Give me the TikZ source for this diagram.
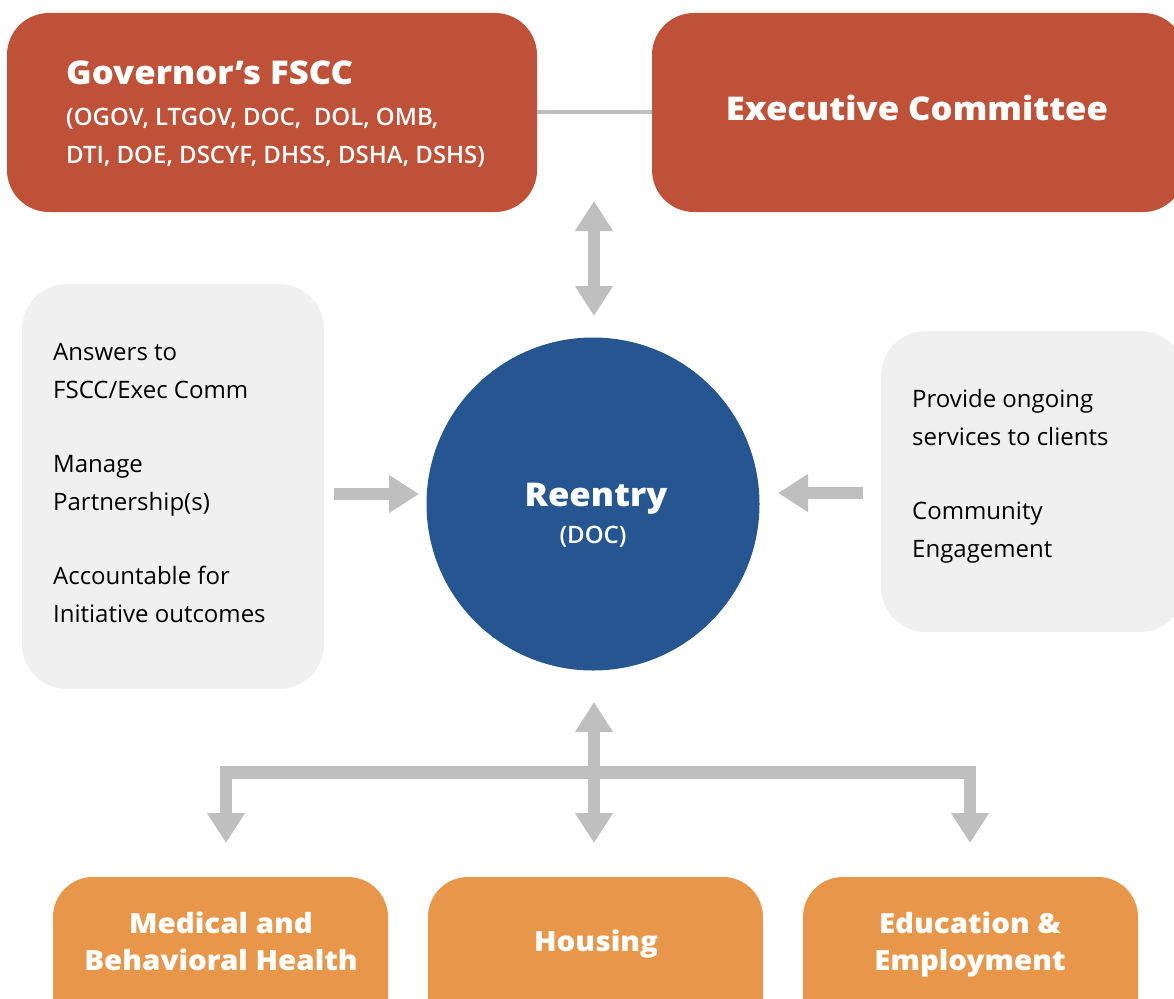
\documentclass[tikz,border=0pt]{standalone}
\usepackage{fontspec}
\setmainfont{Open Sans}
\newcommand\tryfont[4]{\IfFontExistsTF{#2}{\newfontfamily#1{#2}[#3]}{#4}}
\tryfont\xbold{Open Sans ExtraBold}{FakeStretch=1.06}{\tryfont\xbold{Open Sans Extrabold}{FakeStretch=1.06}{\tryfont\xbold{[OpenSans-ExtraBold.ttf]}{FakeStretch=1.06}{\tryfont\xbold{[OpenSans-Extrabold.ttf]}{FakeStretch=1.06}{\newfontfamily\xboldfam{Open Sans}[FakeBold=1.5,FakeStretch=1.06]\newcommand\xbold{\xboldfam\bfseries}}}}}
\tryfont\semibf{Open Sans Semibold}{}{\tryfont\semibf{[OpenSans-SemiBold.ttf]}{}{\tryfont\semibf{[OpenSans-Semibold.ttf]}{}{\newfontfamily\semibf{Open Sans}[FakeBold=1.3]}}}
\usetikzlibrary{arrows.meta}
\definecolor{rust}{RGB}{190,81,56}
\definecolor{navy}{RGB}{38,86,145}
\definecolor{orng}{RGB}{232,150,74}
\definecolor{pale}{RGB}{240,240,240}
\definecolor{arrgray}{RGB}{191,191,191}
\tikzset{
  topbox/.style={fill=rust, draw=none, rounded corners=42pt},
  sidebox/.style={fill=pale, draw=none, rounded corners=45pt},
  botbox/.style={fill=orng, draw=none, rounded corners=40pt},
  wtxt/.style={text=white, inner sep=0pt},
  btxt/.style={text=black, inner sep=0pt, anchor=base west, font=\fontsize{24}{28}\selectfont},
  bigw/.style={wtxt, anchor=base, font=\fontsize{27.8}{37}\xbold\selectfont},
  subw/.style={wtxt, anchor=base west, font=\fontsize{24}{28}\semibf\selectfont},
  blockarrow/.style={draw=arrgray, line width=12.5pt, line join=miter,
     arrows={-Triangle[width=36pt,length=30pt,fill=arrgray]}},
  dblarrow/.style={draw=arrgray, line width=12.5pt, line join=miter,
     arrows={Triangle[width=36pt,length=30pt,fill=arrgray]-Triangle[width=36pt,length=30pt,fill=arrgray]}},
}
\begin{document}
\begin{tikzpicture}[x=1pt,y=-1pt]
\useasboundingbox (0,0) rectangle (1174,998);
\clip (0,0) rectangle (1174,998);
% top boxes
\path[topbox] (7,13) rectangle (537,212);
\path[topbox] (652,13) rectangle (1185,212);
\node[wtxt, anchor=base west, font=\fontsize{32.7}{34}\xbold\selectfont] (govt) at (66,84) {Governor’s FSCC};
\node[subw] (govs1) at (66,125) {(OGOV, LTGOV, DOC,\ \ DOL, OMB,};
\node[subw] (govs2) at (66,163) {DTI, DOE, DSCYF, DHSS, DSHA, DSHS)};
\node[wtxt, anchor=base, font=\fontsize{32.7}{38}\xbold\selectfont] (exect) at (917,120) {Executive Committee};
\coordinate (gr) at (537,112);
\coordinate (el) at (652,112);
\draw[draw=arrgray, line width=4pt] (gr) -- (el);
% side boxes
\path[sidebox] (22,284) rectangle (324,689);
\path[sidebox] (881,331) rectangle (1185,632);
\node[btxt] (l1) at (53,360) {Answers to};
\node[btxt] (l2) at (53,398) {FSCC/Exec Comm};
\node[btxt] (l3) at (53,472) {Manage};
\node[btxt] (l4) at (53,510) {Partnership(s)};
\node[btxt] (l5) at (53,584) {Accountable for};
\node[btxt] (l6) at (53,622) {Initiative outcomes};
\node[btxt] (r1) at (912,407) {Provide ongoing};
\node[btxt] (r2) at (912,445) {services to clients};
\node[btxt] (r3) at (912,519) {Community};
\node[btxt] (r4) at (912,557) {Engagement};
% circle
\node[circle, fill=navy, minimum size=333pt, inner sep=0pt] (reentry) at (593,504) {};
\node[wtxt, anchor=base, font=\fontsize{32.7}{38}\xbold\selectfont] (reent) at (596,506) {Reentry};
\node[wtxt, anchor=base, font=\fontsize{24}{28}\semibf\selectfont] (doc) at (593,543) {(DOC)};
% arrows
\coordinate (vt) at (594,201);
\coordinate (vb) at (594,316);
\draw[dblarrow] (vt) -- (vb);
\coordinate (la) at (334,494);
\coordinate (lb) at (419,494);
\draw[blockarrow] (la) -- (lb);
\coordinate (ra) at (863,493);
\coordinate (rb) at (778,493);
\draw[blockarrow] (ra) -- (rb);
% bottom tree
\coordinate (hub) at (594,772.5);
\coordinate (uptip) at (594,702);
\coordinate (lc) at (226,772.5);
\coordinate (rc) at (970,772.5);
\coordinate (ltip) at (226,843);
\coordinate (ctip) at (594,843);
\coordinate (rtip) at (970,843);
\draw[dblarrow] (ltip) -- (lc) -- (rc) -- (rtip);
\draw[blockarrow] (hub) -- (uptip);
\draw[blockarrow] (hub) -- (ctip);
% bottom boxes
\path[botbox] (53,877) rectangle (388,1050);
\path[botbox] (428,877) rectangle (763,1050);
\path[botbox] (803,877) rectangle (1138,1050);
\node[bigw] (med1) at (221,933) {Medical and};
\node[bigw] (med2) at (221,970) {Behavioral Health};
\node[bigw] (hous) at (596,951) {Housing};
\node[bigw] (edu1) at (970,933) {Education \&};
\node[bigw] (edu2) at (970,970) {Employment};
\end{tikzpicture}
\end{document}
